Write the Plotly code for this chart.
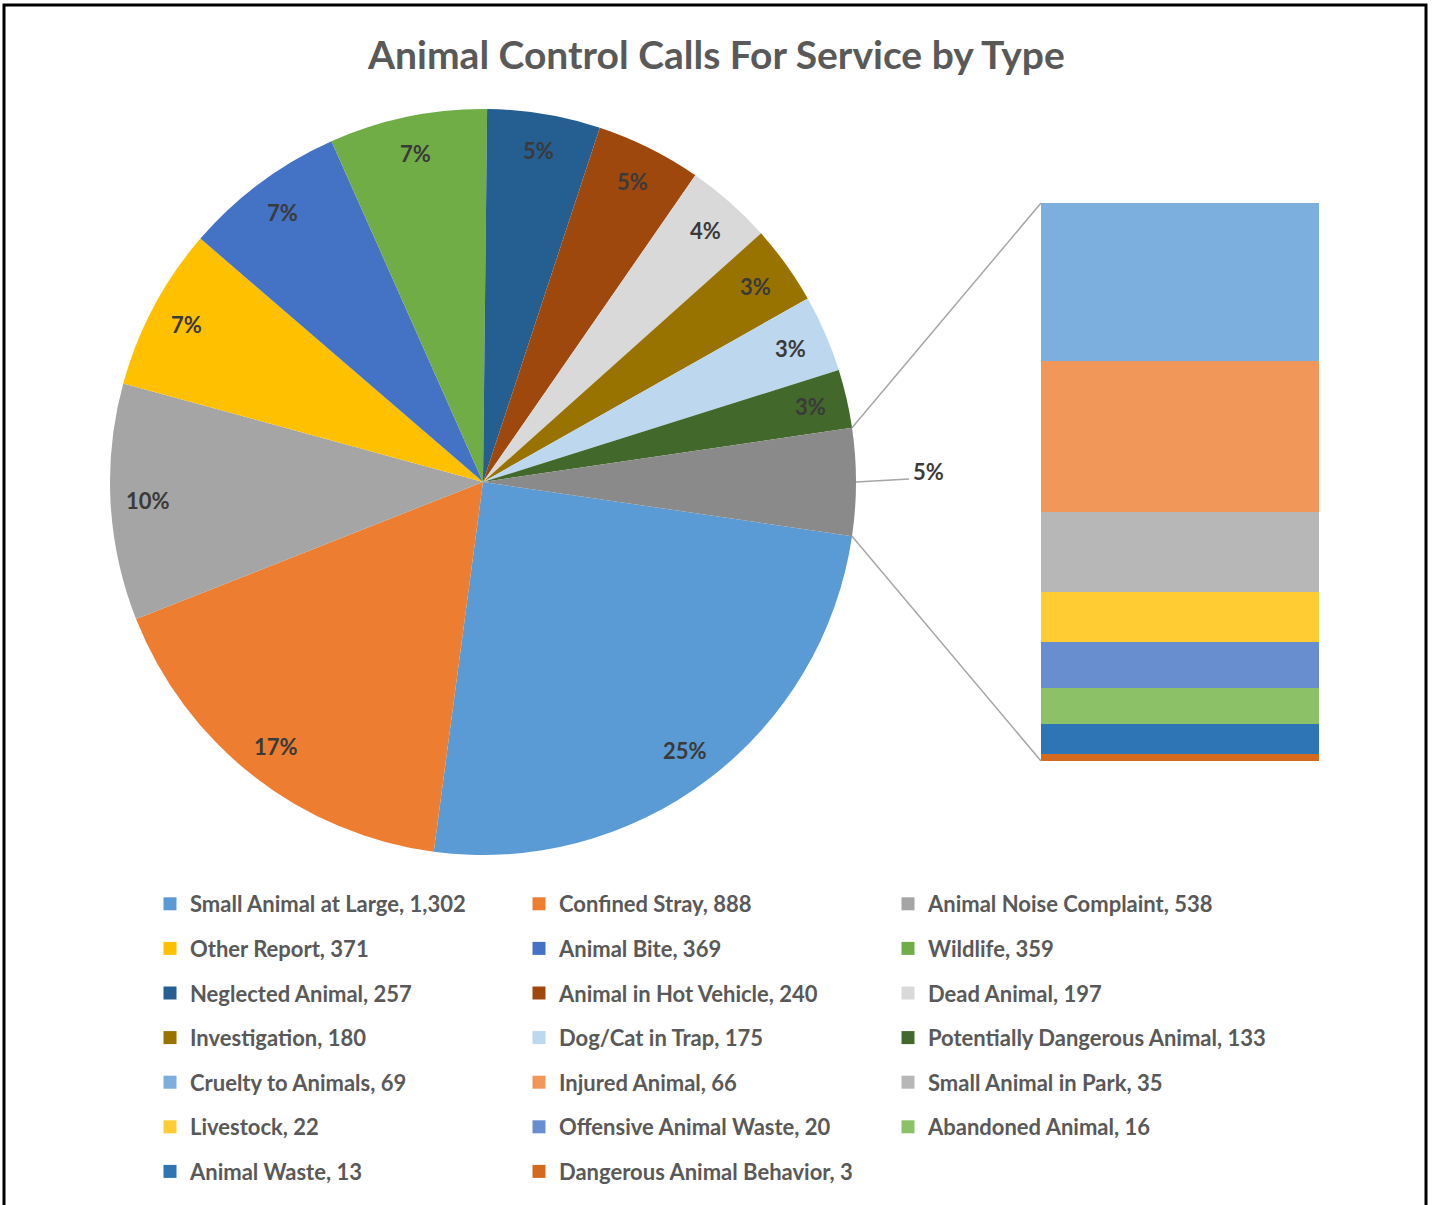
import math
import plotly.graph_objects as go

# ---- data -------------------------------------------------------------
main_labels = [
    "Small Animal at Large", "Confined Stray", "Animal Noise Complaint",
    "Other Report", "Animal Bite", "Wildlife", "Neglected Animal",
    "Animal in Hot Vehicle", "Dead Animal", "Investigation",
    "Dog/Cat in Trap", "Potentially Dangerous Animal",
]
main_values = [1302, 888, 538, 371, 369, 359, 257, 240, 197, 180, 175, 133]
main_colors = [
    "#5B9BD5", "#ED7D31", "#A5A5A5", "#FFC000", "#4472C4", "#70AD47",
    "#255E91", "#9E480E", "#D9D9D9", "#997300", "#BDD7EE", "#43682B",
]

small_labels = [
    "Cruelty to Animals", "Injured Animal", "Small Animal in Park",
    "Livestock", "Offensive Animal Waste", "Abandoned Animal",
    "Animal Waste", "Dangerous Animal Behavior",
]
small_values = [69, 66, 35, 22, 20, 16, 13, 3]
small_colors = [
    "#7CAFDD", "#F1975A", "#B7B7B7", "#FFCD33",
    "#698ED0", "#8CC168", "#2E75B6", "#D46A1F",
]

other_label = "Other"
other_color = "#8A8A8A"

# ---- geometry (pixels on a 1432 x 1205 canvas) ------------------------
W, H = 1432, 1205
cx, cy, R = 483, 482, 373
bar_x0, bar_x1, bar_y0, bar_y1 = 1041, 1319, 203, 761

def px(x):
    return x / W

def py(y):
    return 1 - y / H

other_total = sum(small_values)
pie_values = main_values + [other_total]
pie_labels = main_labels + [other_label]
pie_colors = main_colors + [other_color]
total = sum(pie_values)

# first slice starts just below 3 o'clock so the "Other" slice is centred on it
other_deg = other_total / total * 360
rotation = 90 + other_deg / 2

fig = go.Figure()

fig.add_trace(go.Pie(
    labels=pie_labels,
    values=pie_values,
    sort=False,
    direction="clockwise",
    rotation=rotation,
    marker=dict(colors=pie_colors, line=dict(width=0)),
    textinfo="none",
    hoverinfo="label+value+percent",
    showlegend=False,
    domain=dict(x=[px(cx - R), px(cx + R)], y=[py(cy + R), py(cy - R)]),
))

# stacked bar breaking down the "Other" slice (bottom to top)
for lab, val, col in reversed(list(zip(small_labels, small_values, small_colors))):
    fig.add_trace(go.Bar(
        x=[other_label], y=[val], name=lab,
        marker=dict(color=col, line=dict(width=0)),
        showlegend=False, xaxis="x", yaxis="y",
        hovertemplate=lab + ": %{y}<extra></extra>",
    ))

label_font = dict(family="Lato", size=22, color="#3A3A3A")

# percentage labels on the pie
annotations = []
label_r = 0.9 * R
cum = 0.0
for lab, val in zip(pie_labels, pie_values):
    mid = rotation + (cum + val / 2) / total * 360
    cum += val
    pct = f"{round(val / total * 100)}%"
    th = math.radians(mid)
    if lab == other_label:
        # label sits outside, joined by a short leader line
        x_edge = cx + R * math.sin(th)
        y_edge = cy - R * math.cos(th)
        annotations.append(dict(
            x=px(x_edge + 55), y=py(y_edge - 10), xref="paper", yref="paper",
            text=f"<b>{pct}</b>", showarrow=False, xanchor="left",
            yanchor="middle", font=label_font,
        ))
        continue
    lx = cx + label_r * math.sin(th)
    ly = cy - label_r * math.cos(th)
    annotations.append(dict(
        x=px(lx), y=py(ly), xref="paper", yref="paper",
        text=f"<b>{pct}</b>", showarrow=False,
        xanchor="center", yanchor="middle", font=label_font,
    ))

# title
annotations.append(dict(
    x=px(716), y=py(54), xref="paper", yref="paper",
    xanchor="center", yanchor="middle",
    text="<b>Animal Control Calls For Service by Type</b>", showarrow=False,
    font=dict(family="Lato", size=39, color="#595959"),
))

shapes = []
# connector lines from the "Other" slice edges to the bar corners
half = math.radians(other_deg / 2)
top_pt = (cx + R * math.cos(half), cy - R * math.sin(half))
bot_pt = (cx + R * math.cos(half), cy + R * math.sin(half))
for (x0, y0), (x1, y1) in [(top_pt, (bar_x0, bar_y0)), (bot_pt, (bar_x0, bar_y1))]:
    shapes.append(dict(type="line", xref="paper", yref="paper",
                       x0=px(x0), y0=py(y0), x1=px(x1), y1=py(y1),
                       line=dict(color="#A6A6A6", width=1.5)))
# leader line for the outside "Other" label
shapes.append(dict(type="line", xref="paper", yref="paper",
                   x0=px(cx + R), y0=py(cy), x1=px(cx + R + 53), y1=py(cy - 3),
                   line=dict(color="#A6A6A6", width=1.5)))
# outer frame (open at the bottom)
shapes.append(dict(type="path", xref="paper", yref="paper",
                   path=f"M {px(4)} {py(1215)} L {px(4)} {py(5)} L {px(1426)} {py(5)} L {px(1426)} {py(1215)}",
                   line=dict(color="black", width=3)))

# legend: three columns, one entry per category
legend_labels = main_labels + small_labels
legend_values = main_values + small_values
legend_colors = main_colors + small_colors
for i, (lab, val, col) in enumerate(zip(legend_labels, legend_values, legend_colors)):
    col_idx = i % 3
    fig.add_trace(go.Scatter(
        x=[None], y=[None], mode="markers",
        marker=dict(symbol="square", size=13, color=col),
        name=f"{lab}, {val:,}",
        legend="legend" if col_idx == 0 else f"legend{col_idx + 1}",
        legendgroup=f"g{i}",
        showlegend=True, xaxis="x2", yaxis="y2",
    ))

legend_common = dict(
    orientation="v", xanchor="left", yanchor="top",
    bgcolor="rgba(0,0,0,0)", tracegroupgap=13,
    font=dict(family="Lato", size=22, color="#595959", weight="bold"),
    itemclick=False, itemdoubleclick=False,
)
col_x = [150, 519, 888]
legend_top = 883
fig.update_layout(
    width=W, height=H,
    margin=dict(l=0, r=0, t=0, b=0, autoexpand=False),
    paper_bgcolor="white", plot_bgcolor="white",
    barmode="stack", bargap=0,
    xaxis=dict(domain=[px(bar_x0), px(bar_x1)], visible=False, fixedrange=True),
    yaxis=dict(domain=[py(bar_y1), py(bar_y0)], range=[0, other_total],
               visible=False, fixedrange=True),
    xaxis2=dict(domain=[0, 0.01], visible=False),
    yaxis2=dict(domain=[0, 0.01], visible=False),
    legend=dict(x=px(col_x[0]), y=py(legend_top), **legend_common),
    legend2=dict(x=px(col_x[1]), y=py(legend_top), **legend_common),
    legend3=dict(x=px(col_x[2]), y=py(legend_top), **legend_common),
    annotations=annotations,
    shapes=shapes,
)

fig.write_html("out.html")
